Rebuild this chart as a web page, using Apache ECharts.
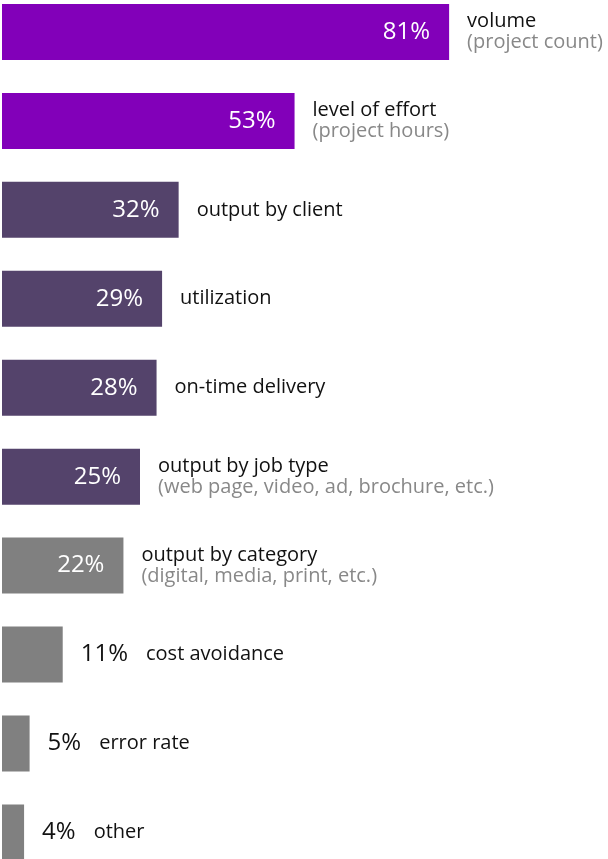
<!DOCTYPE html>
<html>
<head>
<meta charset="utf-8">
<script src="https://cdn.jsdelivr.net/npm/echarts@6/dist/echarts.min.js"></script>
<style>html,body{margin:0;padding:0;background:#fff}#c{width:608px;height:859px}</style>
</head>
<body>
<div id="c"></div>
<script>
const categories = ['volume','level of effort','output by client','utilization','on-time delivery','output by job type','output by category','cost avoidance','error rate','other'];
const subtitles = ['(project count)','(project hours)','','','','(web page, video, ad, brochure, etc.)','(digital, media, print, etc.)','','',''];
const values = [81,53,32,29,28,25,22,11,5,4];
const groups = ['a','a','b','b','b','b','c','c','c','c'];
const insideLabel = [true,true,true,true,true,true,true,false,false,false];

const groupColor = {a:'#8200B9', b:'#54436B', c:'#808080'};
const FONT = 'Open Sans';

const barData = values.map((v,i)=>({
  value: v,
  itemStyle:{color: groupColor[groups[i]]},
  label:{show: insideLabel[i]}
}));
const textData = values.map((v,i)=>({
  value: v,
  label:{
    formatter: insideLabel[i]
      ? (subtitles[i] ? '{n|'+categories[i]+'}\n{s|'+subtitles[i]+'}' : '{n|'+categories[i]+'}')
      : '{v|'+v+'%}{n|'+categories[i]+'}',
    distance: 18
  }
}));

const chart = echarts.init(document.getElementById('c'), null, {renderer:'canvas'});
chart.setOption({
  animation:false,
  grid:{left:2, top:-12.5, width:552, height:889.4, containLabel:false, outerBoundsMode:'none'},
  xAxis:{type:'value', min:0, max:100, show:false},
  yAxis:{type:'category', data:categories, inverse:true, show:false},
  series:[
    {type:'bar', data:barData, barWidth:56, z:2,
     label:{show:true, position:'insideRight', distance:19, color:'#fff', fontSize:24, fontFamily:FONT,
            formatter:p=>p.value+'%'}},
    {type:'bar', data:textData, barWidth:56, barGap:'-100%', z:1,
     itemStyle:{color:'transparent'},
     label:{show:true, position:'right', fontFamily:FONT,
       rich:{
         n:{fontSize:20, color:'#111', fontFamily:FONT, lineHeight:21},
         s:{fontSize:20, color:'#888888', fontFamily:FONT, lineHeight:21},
         v:{fontSize:24, color:'#111', fontFamily:FONT, padding:[0,18,0,0]}
       }}}
  ]
});
</script>
</body>
</html>
